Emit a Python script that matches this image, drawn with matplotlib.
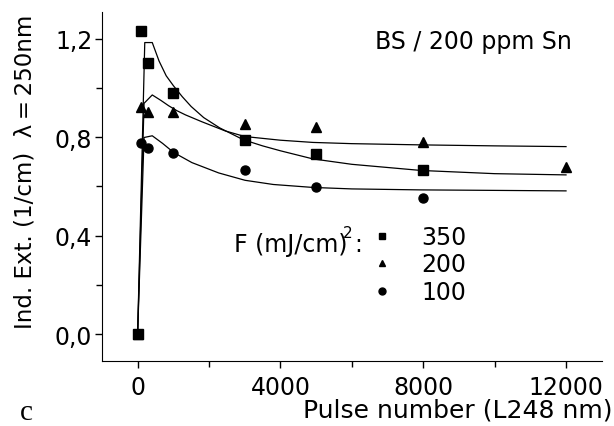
import matplotlib.pyplot as plt
from matplotlib.lines import Line2D

plt.rcParams['font.family'] = ['DejaVu Sans']

# measured induced extinction at 250 nm, per fluence (mJ/cm2)
pulses_350 = [0, 100, 300, 1000, 3000, 5000, 8000]
ext_350 = [0.0, 1.23, 1.10, 0.98, 0.79, 0.73, 0.666]
pulses_200 = [0, 100, 300, 1000, 3000, 5000, 8000, 12000]
ext_200 = [0.0, 0.925, 0.903, 0.903, 0.853, 0.843, 0.782, 0.681]
pulses_100 = [0, 100, 300, 1000, 3000, 5000, 8000]
ext_100 = [0.0, 0.778, 0.758, 0.738, 0.666, 0.596, 0.555]

# fitted curves, sampled
fit_x_350 = [0, 200, 410, 600, 800, 1000, 1250, 1500, 1850, 2300, 2960, 3500,
             4000, 4910, 6000, 7940, 10000, 12000]
fit_y_350 = [0.0, 1.185, 1.185, 1.11, 1.05, 1.01, 0.965, 0.925, 0.88, 0.838,
             0.79, 0.765, 0.745, 0.712, 0.69, 0.665, 0.652, 0.647]
fit_x_200 = [0, 180, 410, 650, 870, 1100, 1340, 1800, 2450, 3000, 4000, 4910,
             6000, 7940, 10000, 12000]
fit_y_200 = [0.0, 0.938, 0.972, 0.95, 0.928, 0.908, 0.891, 0.863, 0.826, 0.803,
             0.788, 0.779, 0.774, 0.769, 0.765, 0.762]
fit_x_100 = [0, 180, 410, 700, 1010, 1520, 2270, 3010, 3800, 4910, 6000, 7940,
             10000, 12000]
fit_y_100 = [0.0, 0.799, 0.806, 0.775, 0.738, 0.697, 0.655, 0.625, 0.608, 0.596,
             0.59, 0.586, 0.584, 0.582]

fluences = ['350', '200', '100']
markers = ['s', '^', 'o']

fig = plt.figure(figsize=(6.14, 4.27), dpi=100)
ax = fig.add_axes([0.166, 0.152, 0.814, 0.818])

for fx, fy in [(fit_x_350, fit_y_350), (fit_x_200, fit_y_200), (fit_x_100, fit_y_100)]:
    ax.plot(fx, fy, color='black', lw=0.9)

ms = 6.5
ax.plot(pulses_350, ext_350, 's', color='black', ms=ms)
ax.plot(pulses_200, ext_200, '^', color='black', ms=ms)
ax.plot(pulses_100, ext_100, 'o', color='black', ms=ms)

ax.set_xlim(-1000, 13000)
ax.set_ylim(-0.11, 1.31)
ax.set_xticks([0, 4000, 8000, 12000])
ax.set_xticks([2000, 6000, 10000], minor=True)
ax.set_yticks([0.0, 0.4, 0.8, 1.2])
ax.set_yticks([0.2, 0.6, 1.0], minor=True)
ax.set_yticklabels(['0,0', '0,4', '0,8', '1,2'])
ax.tick_params(which='both', direction='out', labelsize=17, width=1)
ax.tick_params(which='major', length=5)
ax.tick_params(which='minor', length=4)
ax.tick_params(axis='x', pad=5)
ax.tick_params(axis='y', pad=2)
for side in ['top', 'right']:
    ax.spines[side].set_visible(False)

ax.set_ylabel('Ind. Ext. (1/cm)  \u03bb\u2009=\u2009250nm', fontsize=16.5)
ax.yaxis.set_label_coords(-0.13, 0.545)

fig.text(0.997, 0.038, 'Pulse number (L248 nm)', fontsize=18, ha='right', va='center')
fig.text(0.033, 0.016, 'c', fontsize=21, family='Liberation Serif', va='baseline')

ax.text(0.94, 0.917, 'BS / 200 ppm Sn', transform=ax.transAxes, fontsize=17,
        ha='right', va='center')

handles = [Line2D([], [], ls='none', marker=m, color='black', ms=5) for m in markers]
ax.legend(handles, fluences, loc='upper left', bbox_to_anchor=(0.541, 0.39),
          frameon=False, fontsize=17, handlelength=0.8, handletextpad=1.29,
          labelspacing=0.15, borderpad=0, borderaxespad=0)
ax.text(0.264, 0.315, 'F (mJ/cm) :', transform=ax.transAxes, fontsize=17,
        ha='left', va='baseline')
ax.text(0.492, 0.355, '2', transform=ax.transAxes, fontsize=11,
        ha='center', va='baseline')

fig.savefig('out.png', dpi=100)
